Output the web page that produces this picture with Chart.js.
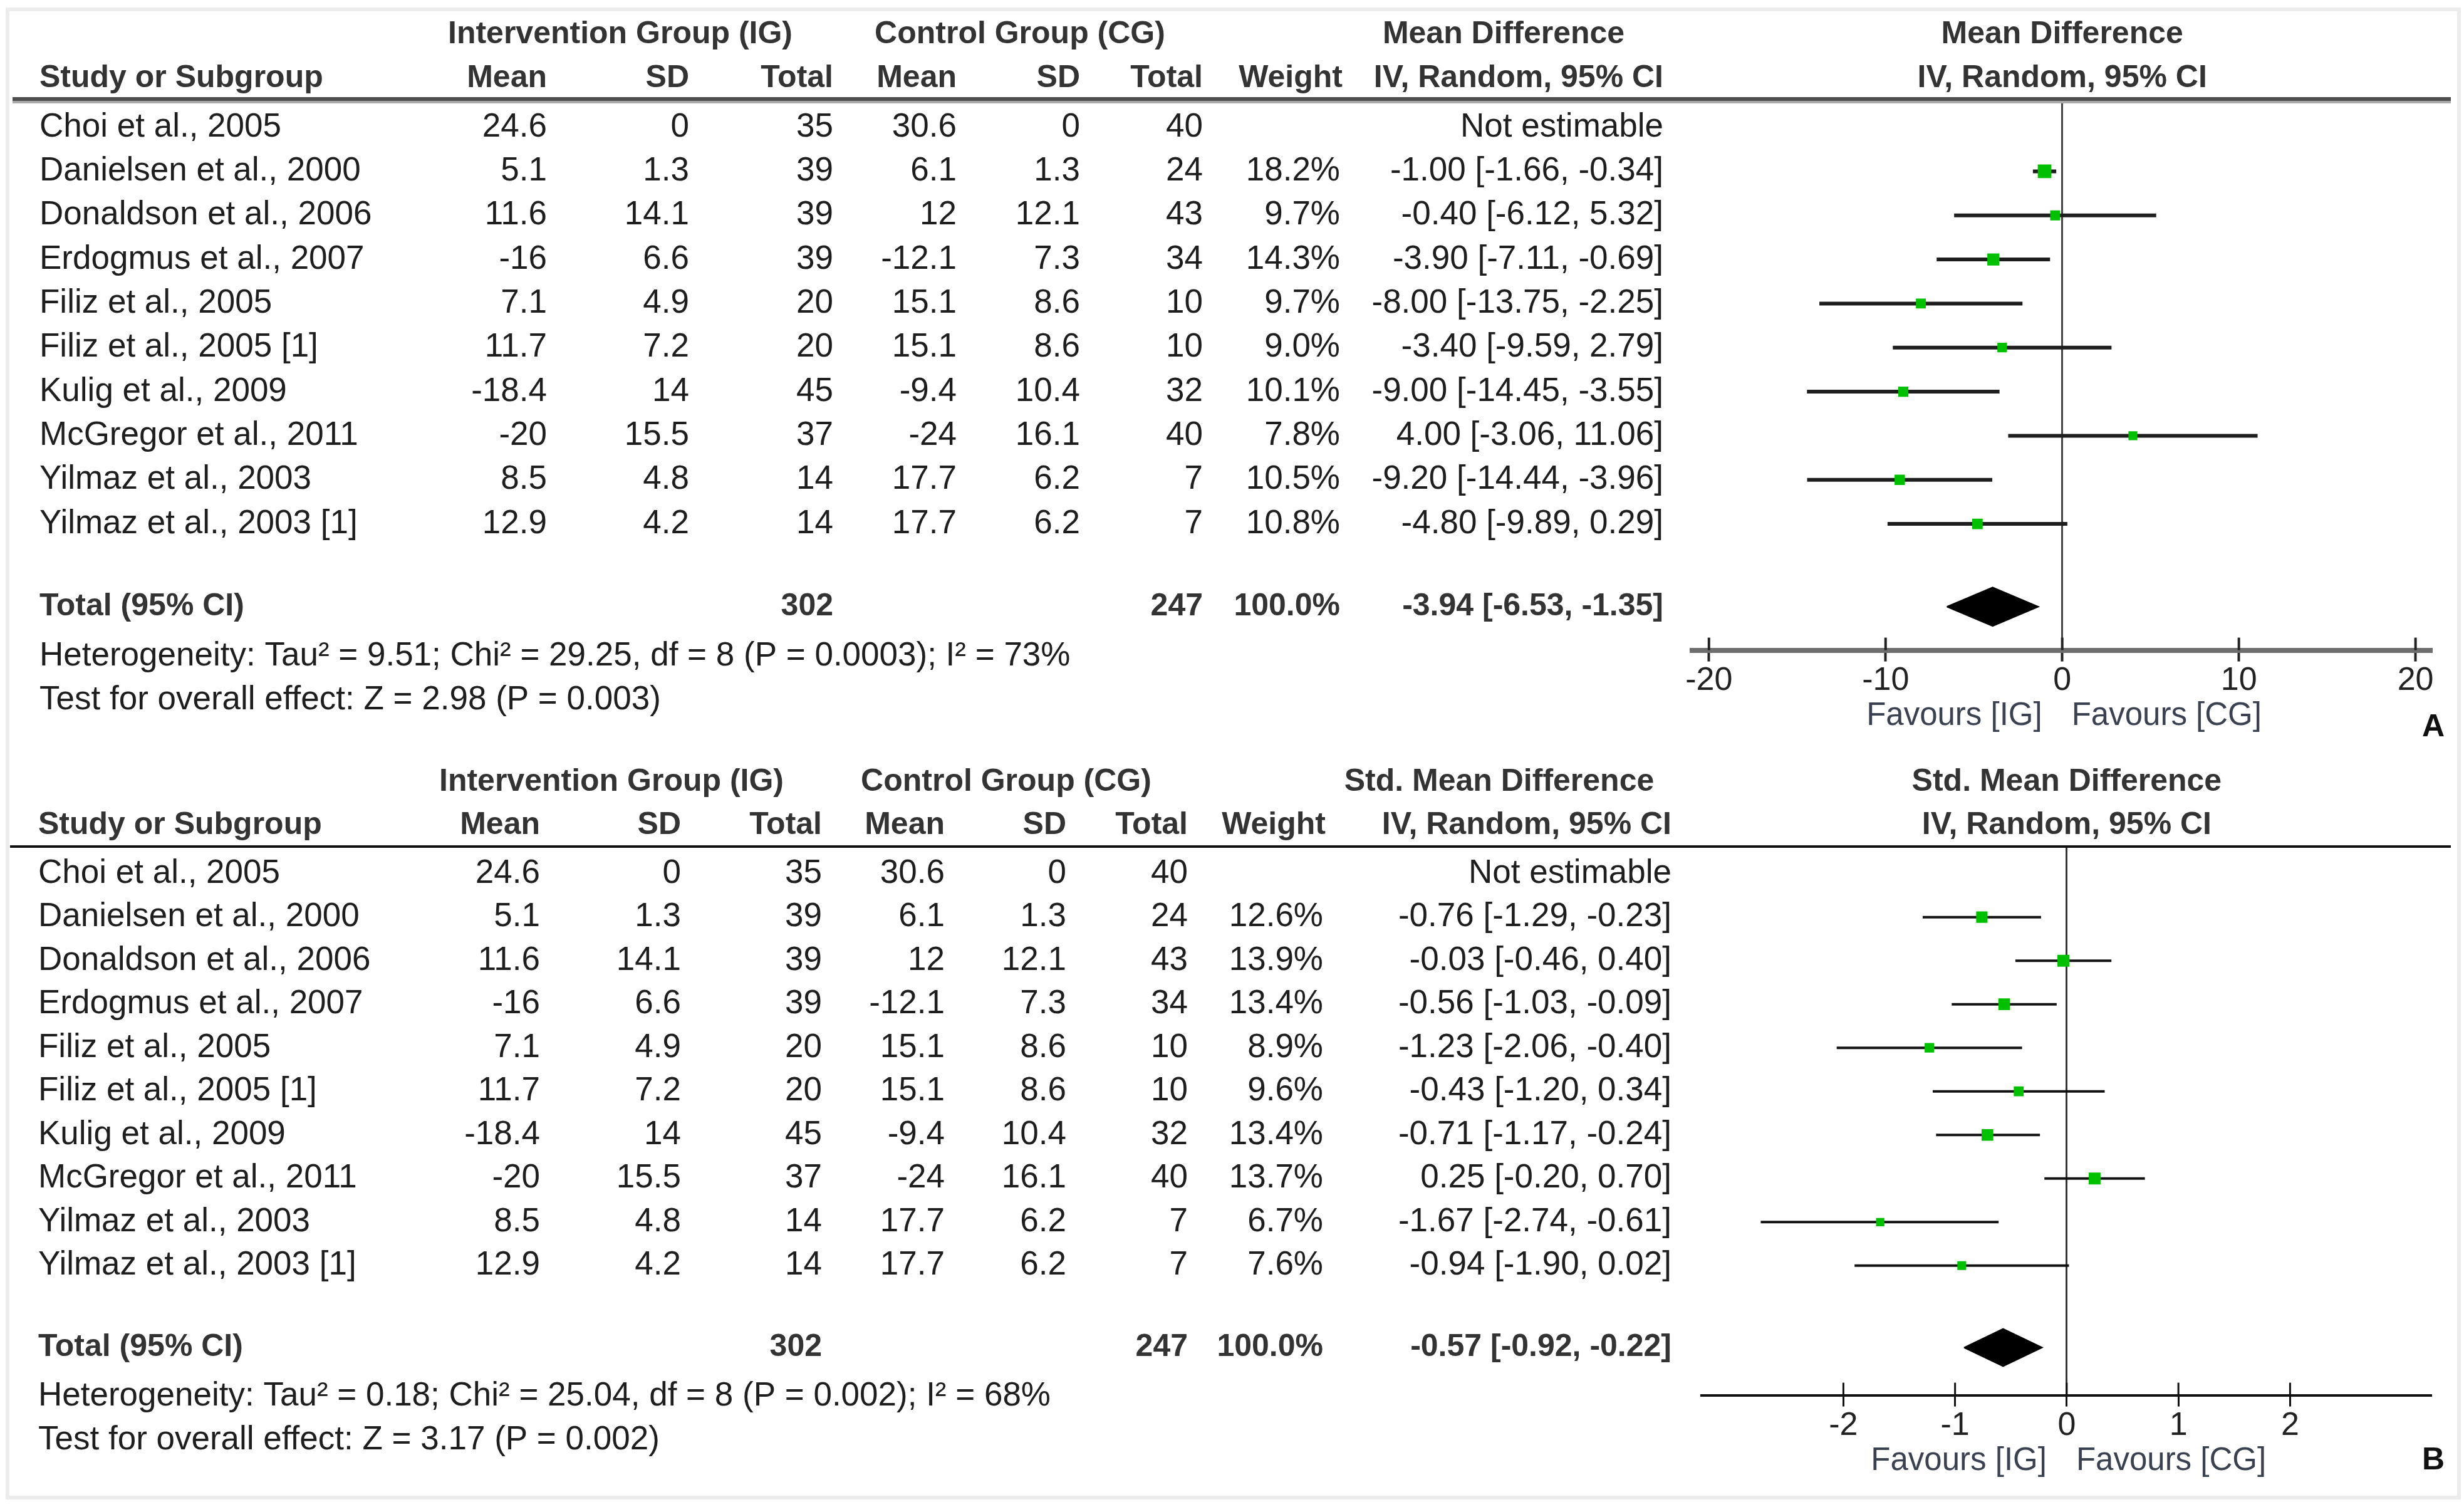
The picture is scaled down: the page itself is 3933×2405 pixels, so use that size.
<!DOCTYPE html>
<html>
<head>
<meta charset="utf-8">
<script src="https://cdn.jsdelivr.net/npm/chart.js@4.4.1/dist/chart.umd.min.js"></script>
<style>
  html, body { margin: 0; padding: 0; background: #fff; }
  body { width: 3933px; height: 2405px; position: relative; overflow: hidden; }
  #frame { position: absolute; left: 9px; top: 12px; width: 3907px; height: 2369px; border: 6px solid #ececec; }
  canvas { position: absolute; left: 0; }
  #panelA { top: 0; }
  #panelB { top: 1191px; }
</style>
</head>
<body>
<div id="frame"></div>
<canvas id="panelA" width="3933" height="1191"></canvas>
<canvas id="panelB" width="3933" height="1214"></canvas>
<script>
// study rows (same raw data in both panels)
const studies = ["Choi et al., 2005", "Danielsen et al., 2000", "Donaldson et al., 2006", "Erdogmus et al., 2007",
  "Filiz et al., 2005", "Filiz et al., 2005 [1]", "Kulig et al., 2009", "McGregor et al., 2011",
  "Yilmaz et al., 2003", "Yilmaz et al., 2003 [1]"];
const igMean = [24.6, 5.1, 11.6, -16, 7.1, 11.7, -18.4, -20, 8.5, 12.9];
const igSD = [0, 1.3, 14.1, 6.6, 4.9, 7.2, 14, 15.5, 4.8, 4.2];
const igTotal = [35, 39, 39, 39, 20, 20, 45, 37, 14, 14];
const cgMean = [30.6, 6.1, 12, -12.1, 15.1, 15.1, -9.4, -24, 17.7, 17.7];
const cgSD = [0, 1.3, 12.1, 7.3, 8.6, 8.6, 10.4, 16.1, 6.2, 6.2];
const cgTotal = [40, 24, 43, 34, 10, 10, 32, 40, 7, 7];
const igSum = 302;
const cgSum = 247;

// panel A: mean difference
const mdWeight = [null, 18.2, 9.7, 14.3, 9.7, 9.0, 10.1, 7.8, 10.5, 10.8];
const mdEst = [null, -1.00, -0.40, -3.90, -8.00, -3.40, -9.00, 4.00, -9.20, -4.80];
const mdLo = [null, -1.66, -6.12, -7.11, -13.75, -9.59, -14.45, -3.06, -14.44, -9.89];
const mdHi = [null, -0.34, 5.32, -0.69, -2.25, 2.79, -3.55, 11.06, -3.96, 0.29];
const mdTotal = [-3.94, -6.53, -1.35];
const mdTicks = [-20, -10, 0, 10, 20];
const mdHet = "Heterogeneity: Tau\u00b2 = 9.51; Chi\u00b2 = 29.25, df = 8 (P = 0.0003); I\u00b2 = 73%";
const mdTest = "Test for overall effect: Z = 2.98 (P = 0.003)";

// panel B: standardised mean difference
const smdWeight = [null, 12.6, 13.9, 13.4, 8.9, 9.6, 13.4, 13.7, 6.7, 7.6];
const smdEst = [null, -0.76, -0.03, -0.56, -1.23, -0.43, -0.71, 0.25, -1.67, -0.94];
const smdLo = [null, -1.29, -0.46, -1.03, -2.06, -1.20, -1.17, -0.20, -2.74, -1.90];
const smdHi = [null, -0.23, 0.40, -0.09, -0.40, 0.34, -0.24, 0.70, -0.61, 0.02];
const smdTotal = [-0.57, -0.92, -0.22];
const smdTicks = [-2, -1, 0, 1, 2];
const smdHet = "Heterogeneity: Tau\u00b2 = 0.18; Chi\u00b2 = 25.04, df = 8 (P = 0.002); I\u00b2 = 68%";
const smdTest = "Test for overall effect: Z = 3.17 (P = 0.002)";

const FONT = '"Liberation Sans", Arial, sans-serif';
const TOTAL_ROW = 10.88;

function f2(v) { return v.toFixed(2); }

function forestChart(canvasId, p) {
  const squares = [];
  const ciSets = [];
  p.est.forEach((v, i) => {
    if (v === null) return;
    squares.push({x: v, y: i, w: p.weight[i]});
    ciSets.push({
      data: [{x: p.lo[i], y: i}, {x: p.hi[i], y: i}],
      showLine: true, pointRadius: 0, borderColor: p.ci, borderWidth: p.ciWidth, order: 2
    });
  });
  const [tEst, tLo, tHi] = p.total;
  const diamond = [
    {x: tLo, y: TOTAL_ROW}, {x: tEst, y: TOTAL_ROW - p.dh}, {x: tHi, y: TOTAL_ROW},
    {x: tEst, y: TOTAL_ROW + p.dh}, {x: tLo, y: TOTAL_ROW}
  ];

  const table = {
    id: 'table' + canvasId,
    afterDraw(chart) {
      const ctx = chart.ctx, xs = chart.scales.x, ys = chart.scales.y, ca = chart.chartArea;
      const c = p.cols;
      const Y = v => ys.getPixelForValue(v);
      const zero = xs.getPixelForValue(0);
      const reg = '53px ' + FONT, bold = 'bold 50px ' + FONT;
      function txt(s, x, y, align, font, color) {
        ctx.font = font; ctx.fillStyle = color || '#1e1e1e';
        ctx.textAlign = align; ctx.textBaseline = 'middle';
        ctx.fillText(s, x, y);
      }
      ctx.save();
      // rule under the header
      p.rule(ctx, ca.top);

      // header
      const h1 = Y(-2.1), h2 = Y(-1.1), hc = '#333';
      txt('Intervention Group (IG)', c.igCenter, h1, 'center', bold, hc);
      txt('Control Group (CG)', c.cgCenter, h1, 'center', bold, hc);
      txt(p.title, c.effCenter, h1, 'center', bold, hc);
      txt(p.title, zero, h1, 'center', bold, hc);
      txt('Study or Subgroup', c.name, h2, 'left', bold, hc);
      txt('Mean', c.igMean, h2, 'right', bold, hc);
      txt('SD', c.igSD, h2, 'right', bold, hc);
      txt('Total', c.igTotal, h2, 'right', bold, hc);
      txt('Mean', c.cgMean, h2, 'right', bold, hc);
      txt('SD', c.cgSD, h2, 'right', bold, hc);
      txt('Total', c.cgTotal, h2, 'right', bold, hc);
      txt('Weight', c.weight + 4, h2, 'right', bold, hc);
      txt('IV, Random, 95% CI', c.ci, h2, 'right', bold, hc);
      txt('IV, Random, 95% CI', zero, h2, 'center', bold, hc);

      // study rows
      studies.forEach((s, i) => {
        const y = Y(i);
        txt(s, c.name, y, 'left', reg);
        txt(String(igMean[i]), c.igMean, y, 'right', reg);
        txt(String(igSD[i]), c.igSD, y, 'right', reg);
        txt(String(igTotal[i]), c.igTotal, y, 'right', reg);
        txt(String(cgMean[i]), c.cgMean, y, 'right', reg);
        txt(String(cgSD[i]), c.cgSD, y, 'right', reg);
        txt(String(cgTotal[i]), c.cgTotal, y, 'right', reg);
        if (p.weight[i] !== null) txt(p.weight[i].toFixed(1) + '%', c.weight, y, 'right', reg);
        const ci = p.est[i] === null ? 'Not estimable'
          : f2(p.est[i]) + ' [' + f2(p.lo[i]) + ', ' + f2(p.hi[i]) + ']';
        txt(ci, c.ci, y, 'right', reg);
      });

      // total + footnotes
      const yt = Y(TOTAL_ROW);
      txt('Total (95% CI)', c.name, yt, 'left', bold, hc);
      txt(String(igSum), c.igTotal, yt, 'right', bold, hc);
      txt(String(cgSum), c.cgTotal, yt, 'right', bold, hc);
      txt('100.0%', c.weight, yt, 'right', bold, hc);
      txt(f2(tEst) + ' [' + f2(tLo) + ', ' + f2(tHi) + ']', c.ci, yt, 'right', bold, hc);
      txt(p.het, c.name, Y(12), 'left', reg);
      txt(p.test, c.name, Y(13), 'left', reg);

      // upper halves of the axis ticks
      ctx.fillStyle = p.tick;
      xs.ticks.forEach(t => {
        const px = xs.getPixelForValue(t.value);
        ctx.fillRect(px - p.tickWidth / 2, ca.bottom - 20, p.tickWidth, 20);
      });

      // favours labels and panel letter
      const fy = ca.bottom + 105, ff = '51px ' + FONT, fc = '#3a4150';
      txt('Favours [IG]', zero - 32, fy, 'right', ff, fc);
      txt('Favours [CG]', zero + 15, fy, 'left', ff, fc);
      txt(p.letter, 3866, ca.bottom + p.letterDy, 'left', 'bold 50px ' + FONT, '#111');
      ctx.restore();
    }
  };

  return new Chart(document.getElementById(canvasId), {
    type: 'scatter',
    data: {
      datasets: [
        {
          data: squares, pointStyle: 'rect', backgroundColor: '#00c000', borderWidth: 0,
          pointRadius: ctx => Math.sqrt(ctx.raw.w) * 3.6, order: 0
        },
        {
          data: diamond, showLine: true, pointRadius: 0, borderColor: '#000', borderWidth: 2,
          backgroundColor: '#000', fill: 'shape', order: 0
        },
        ...ciSets
      ]
    },
    options: {
      responsive: false,
      animation: false,
      devicePixelRatio: 1,
      events: [],
      layout: {padding: {left: p.left, right: p.right, top: 160, bottom: p.bottom}},
      plugins: {legend: {display: false}, tooltip: {enabled: false}},
      scales: {
        x: {
          type: 'linear', min: p.xMin, max: p.xMax,
          afterBuildTicks: scale => { scale.ticks = p.ticks.map(v => ({value: v})); },
          ticks: {font: {family: FONT, size: 52}, color: '#222', padding: 0, autoSkip: false, maxRotation: 0},
          grid: {
            drawOnChartArea: true,
            color: c => (c.tick && c.tick.value === 0) ? p.zero : 'rgba(0,0,0,0)',
            lineWidth: 3,
            tickColor: p.tick, tickWidth: p.tickWidth, tickLength: 18
          },
          border: {display: true, color: p.axis, width: p.axisWidth}
        },
        y: {type: 'linear', display: false, reverse: true, min: p.yMin, max: p.yMax}
      }
    },
    plugins: [table]
  });
}

forestChart('panelA', {
  est: mdEst, lo: mdLo, hi: mdHi, weight: mdWeight, total: mdTotal, ticks: mdTicks,
  het: mdHet, test: mdTest, title: 'Mean Difference', letter: 'A', letterDy: 124,
  xMin: -20.95, xMax: 20.9, yMin: -0.6125, yMax: 11.866,
  left: 2701, right: 52, bottom: 73,
  ci: '#1e1e1e', ciWidth: 6, dh: 0.44,
  zero: '#444', axis: '#6e6e6e', axisWidth: 8, tick: '#222', tickWidth: 4,
  cols: {name: 63, igMean: 873, igSD: 1100, igTotal: 1330, cgMean: 1527, cgSD: 1724, cgTotal: 1920,
    weight: 2139, ci: 2655, igCenter: 990, cgCenter: 1628, effCenter: 2400},
  rule: (ctx, y) => { ctx.fillStyle = '#4d4d4d'; ctx.fillRect(20, y - 5, 3892, 6); ctx.fillStyle = '#aaa'; ctx.fillRect(20, y + 1, 3892, 4); }
});

forestChart('panelB', {
  est: smdEst, lo: smdLo, hi: smdHi, weight: smdWeight, total: smdTotal, ticks: smdTicks,
  het: smdHet, test: smdTest, title: 'Std. Mean Difference', letter: 'B', letterDy: 105,
  xMin: -3.27, xMax: 3.26, yMin: -0.62, yMax: 11.974,
  left: 2716, right: 53, bottom: 98,
  ci: '#111', ciWidth: 4, dh: 0.43,
  zero: '#333', axis: '#111', axisWidth: 4, tick: '#111', tickWidth: 3,
  cols: {name: 61, igMean: 862, igSD: 1087, igTotal: 1312, cgMean: 1508, cgSD: 1702, cgTotal: 1896,
    weight: 2112, ci: 2668, igCenter: 976, cgCenter: 1606, effCenter: 2393},
  rule: (ctx, y) => { ctx.fillStyle = '#111'; ctx.fillRect(16, y - 2, 3896, 4); }
});
</script>
</body>
</html>
